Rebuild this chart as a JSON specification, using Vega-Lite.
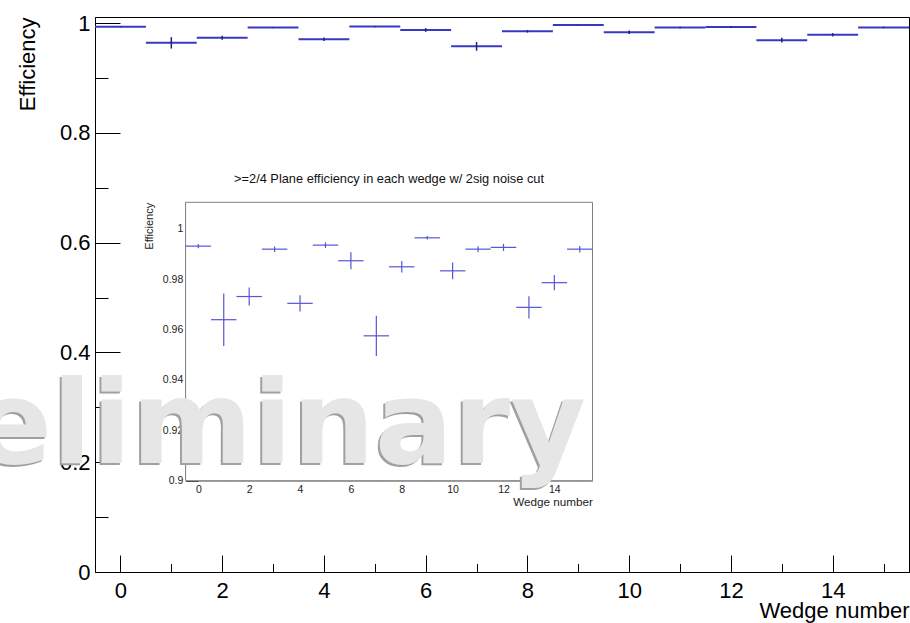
{
  "$schema": "https://vega.github.io/schema/vega-lite/v6.json",
  "width": 814,
  "height": 555,
  "autosize": {"type": "none"},
  "padding": {"left": 95, "top": 17, "right": 1, "bottom": 51},
  "background": "white",
  "config": {
    "font": "Liberation Sans",
    "view": {"stroke": "#000000", "strokeWidth": 1},
    "axis": {"grid": false, "labelFont": "Liberation Sans", "titleFont": "Liberation Sans", "titleFontWeight": "normal", "labelFlush": false, "labelOverlap": false, "labelBound": false, "format": "~g"}
  },
  "datasets": {
    "eff": [
      {"wedge": 0, "eff": 0.9931, "err": 0.0008},
      {"wedge": 1, "eff": 0.9639, "err": 0.0104},
      {"wedge": 2, "eff": 0.9731, "err": 0.0036},
      {"wedge": 3, "eff": 0.9919, "err": 0.0011},
      {"wedge": 4, "eff": 0.9704, "err": 0.0032},
      {"wedge": 5, "eff": 0.9935, "err": 0.0011},
      {"wedge": 6, "eff": 0.9873, "err": 0.0034},
      {"wedge": 7, "eff": 0.9575, "err": 0.0080},
      {"wedge": 8, "eff": 0.9849, "err": 0.0023},
      {"wedge": 9, "eff": 0.9964, "err": 0.0007},
      {"wedge": 10, "eff": 0.9833, "err": 0.0033},
      {"wedge": 11, "eff": 0.9919, "err": 0.0012},
      {"wedge": 12, "eff": 0.9926, "err": 0.0014},
      {"wedge": 13, "eff": 0.9688, "err": 0.0044},
      {"wedge": 14, "eff": 0.9786, "err": 0.0030},
      {"wedge": 15, "eff": 0.9919, "err": 0.0013}
    ]
  },
  "resolve": {"scale": {"x": "independent", "y": "independent"}, "axis": {"x": "independent", "y": "independent"}},
  "layer": [
    {
      "data": {"name": "eff"},
      "transform": [
        {"calculate": "datum.wedge - 0.5", "as": "xlo"},
        {"calculate": "datum.wedge + 0.5", "as": "xhi"},
        {"calculate": "datum.eff - datum.err", "as": "ylo"},
        {"calculate": "datum.eff + datum.err", "as": "yhi"}
      ],
      "layer": [
        {
          "mark": {"type": "rule", "color": "#3838c4", "strokeWidth": 2},
          "encoding": {
            "x": {
              "field": "xlo", "type": "quantitative", "title": "Wedge number",
              "scale": {"domain": [-0.5, 15.5], "nice": false, "zero": false},
              "axis": {
                "orient": "bottom", "format": "~g",
                "values": [0, 0.5, 1, 1.5, 2, 2.5, 3, 3.5, 4, 4.5, 5, 5.5, 6, 6.5, 7, 7.5, 8, 8.5, 9, 9.5, 10, 10.5, 11, 11.5, 12, 12.5, 13, 13.5, 14, 14.5, 15],
                "tickSize": {"condition": {"test": "datum.value % 2 === 0", "value": -17}, "value": -8.5},
                "tickColor": "#000000", "domainColor": "#000000", "tickWidth": 1,
                "labelExpr": "datum.value % 2 === 0 ? datum.label : ''",
                "labelFontSize": 22, "labelColor": "#000000", "labelPadding": 25,
                "titleFontSize": 22, "titleColor": "#000000", "titleAnchor": "end", "titlePadding": -9
              }
            },
            "x2": {"field": "xhi"},
            "y": {
              "field": "eff", "type": "quantitative", "title": "Efficiency",
              "scale": {"domain": [0, 1.011], "nice": false, "zero": false},
              "axis": {
                "orient": "left", "format": "~g",
                "values": [0, 0.05, 0.1, 0.15, 0.2, 0.25, 0.3, 0.35, 0.4, 0.45, 0.5, 0.55, 0.6, 0.65, 0.7, 0.75, 0.8, 0.85, 0.9, 0.95, 1],
                "tickSize": {"condition": {"test": "abs(datum.value*5 - round(datum.value*5)) < 1e-6", "value": -25}, "value": -13},
                "tickColor": "#000000", "domainColor": "#000000", "tickWidth": 1,
                "labelExpr": "abs(datum.value*5 - round(datum.value*5)) < 1e-6 ? datum.label : ''",
                "labelFontSize": 22, "labelColor": "#000000", "labelPadding": 30,
                "titleFontSize": 22, "titleColor": "#000000", "titleAnchor": "end", "titlePadding": 20
              }
            }
          }
        },
        {
          "mark": {"type": "rule", "color": "#20207a", "strokeWidth": 1.5},
          "encoding": {
            "x": {"field": "wedge", "type": "quantitative", "title": "Wedge number"},
            "y": {"field": "ylo", "type": "quantitative", "title": "Efficiency"},
            "y2": {"field": "yhi"}
          }
        }
      ]
    },
    {
      "layer": [
        {
          "data": {"values": [{}]},
          "mark": {"type": "rect", "fill": "white", "stroke": "#808080", "strokeWidth": 1},
          "encoding": {
            "x": {
              "datum": -0.5, "type": "quantitative", "title": "Wedge number",
              "scale": {"domain": [-0.5, 15.5], "range": [90.6, 497.5], "nice": false, "zero": false},
              "axis": {
                "orient": "bottom", "offset": -91.3, "format": "~g",
                "values": [0, 0.5, 1, 1.5, 2, 2.5, 3, 3.5, 4, 4.5, 5, 5.5, 6, 6.5, 7, 7.5, 8, 8.5, 9, 9.5, 10, 10.5, 11, 11.5, 12, 12.5, 13, 13.5, 14, 14.5, 15],
                "tickSize": {"condition": {"test": "datum.value % 2 === 0", "value": -8.3}, "value": -4.2},
                "tickColor": "#444444", "domainColor": "#808080", "tickWidth": 1,
                "labelExpr": "datum.value % 2 === 0 ? datum.label : ''",
                "labelFontSize": 10.5, "labelColor": "#222222", "labelPadding": 12,
                "titleFontSize": 11.7, "titleColor": "#222222", "titleAnchor": "end", "titlePadding": -3
              }
            },
            "x2": {"datum": 15.5},
            "y": {
              "datum": 0.9, "type": "quantitative", "title": "Efficiency",
              "scale": {"domain": [0.9, 1.0105], "range": [463.7, 185.3], "nice": false, "zero": false},
              "axis": {
                "orient": "left", "offset": -90.6, "format": "~g",
                "values": [0.9, 0.905, 0.91, 0.915, 0.92, 0.925, 0.93, 0.935, 0.94, 0.945, 0.95, 0.955, 0.96, 0.965, 0.97, 0.975, 0.98, 0.985, 0.99, 0.995, 1, 1.005],
                "tickSize": {"condition": {"test": "abs(datum.value*50 - round(datum.value*50)) < 1e-6", "value": -12.2}, "value": -6.1},
                "tickColor": "#444444", "domainColor": "#808080", "tickWidth": 1,
                "labelExpr": "abs(datum.value*50 - round(datum.value*50)) < 1e-6 ? datum.label : ''",
                "labelFontSize": 10.5, "labelColor": "#222222", "labelPadding": 15,
                "titleFontSize": 11, "titleColor": "#222222", "titleAnchor": "end", "titlePadding": 8
              }
            },
            "y2": {"datum": 1.0105}
          }
        },
        {
          "data": {"name": "eff"},
          "transform": [
            {"calculate": "datum.wedge - 0.5", "as": "xlo"},
            {"calculate": "datum.wedge + 0.5", "as": "xhi"},
            {"calculate": "datum.eff - datum.err", "as": "ylo"},
            {"calculate": "datum.eff + datum.err", "as": "yhi"}
          ],
          "layer": [
            {
              "mark": {"type": "rule", "color": "#5555d8", "strokeWidth": 1.2},
              "encoding": {
                "x": {"field": "xlo", "type": "quantitative", "title": "Wedge number"},
                "x2": {"field": "xhi"},
                "y": {"field": "eff", "type": "quantitative", "title": "Efficiency"}
              }
            },
            {
              "mark": {"type": "rule", "color": "#5555d8", "strokeWidth": 1.2},
              "encoding": {
                "x": {"field": "wedge", "type": "quantitative", "title": "Wedge number"},
                "y": {"field": "ylo", "type": "quantitative", "title": "Efficiency"},
                "y2": {"field": "yhi"}
              }
            }
          ]
        },
        {
          "data": {"values": [{}]},
          "mark": {"type": "text", "text": ">=2/4 Plane efficiency in each wedge w/ 2sig noise cut", "fontSize": 12.8, "font": "Liberation Sans", "color": "#111111", "align": "center", "baseline": "middle"},
          "encoding": {
            "x": {"datum": 7.5, "type": "quantitative"},
            "y": {"datum": 1.0197, "type": "quantitative"}
          }
        }
      ]
    },
    {
      "data": {"values": [{}]},
      "layer": [
        {
          "mark": {"type": "text", "text": "Preliminary", "font": "DejaVu Sans", "fontWeight": "bold", "fontSize": 116, "align": "right", "baseline": "alphabetic", "color": "#a0a0a0", "dx": -2, "dy": 2},
          "encoding": {
            "x": {"datum": 9.15, "type": "quantitative", "scale": {"domain": [-0.5, 15.5], "nice": false, "zero": false}, "axis": null},
            "y": {"datum": 0.1986, "type": "quantitative", "scale": {"domain": [0, 1.011], "nice": false, "zero": false}, "axis": null}
          }
        },
        {
          "mark": {"type": "text", "text": "Preliminary", "font": "DejaVu Sans", "fontWeight": "bold", "fontSize": 116, "align": "right", "baseline": "alphabetic", "color": "#e6e6e6"},
          "encoding": {
            "x": {"datum": 9.15, "type": "quantitative"},
            "y": {"datum": 0.1986, "type": "quantitative"}
          }
        }
      ]
    }
  ]
}
